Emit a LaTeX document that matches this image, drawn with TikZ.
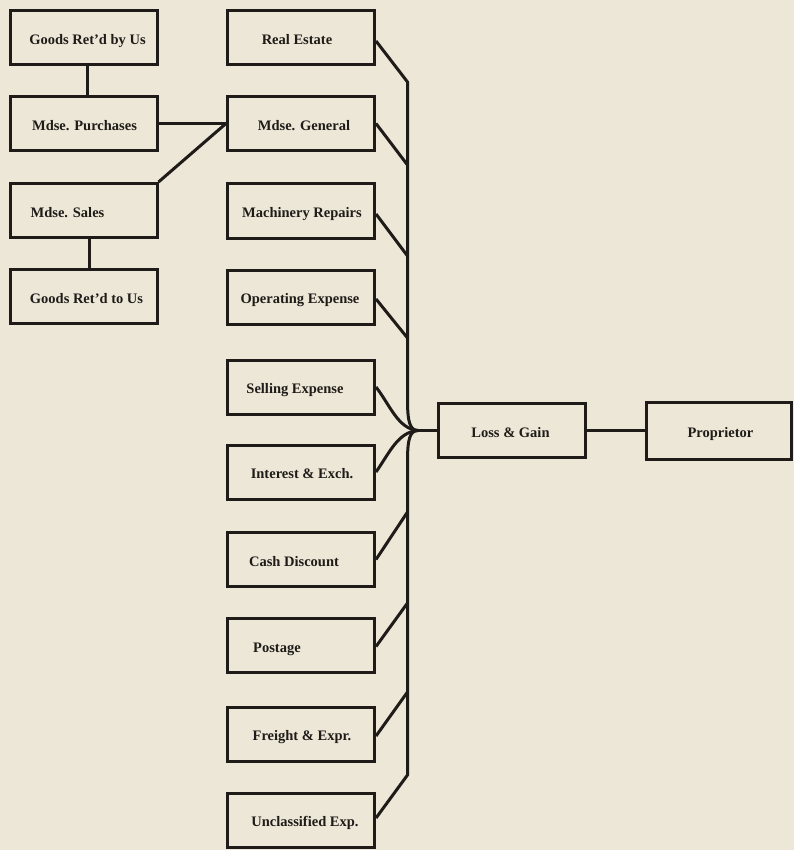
\documentclass[tikz,border=0pt]{standalone}
\usepackage{fontspec}
\setmainfont{Liberation Serif}
\usetikzlibrary{calc}
\definecolor{paper}{RGB}{236,231,214}
\definecolor{ink}{RGB}{30,27,24}
\newcommand{\tsh}[2]{\makebox[0pt][c]{\kern#1pt\kern#1pt #2}}
\begin{document}
\begin{tikzpicture}[x=1pt,y=-1pt,
  box/.style={draw=ink, line width=3pt, minimum width=147pt, minimum height=54pt,
    inner sep=0pt, text height=16.5pt, text depth=3pt,
    font=\fontsize{14.5}{17}\selectfont\bfseries, text=ink},
  conn/.style={draw=ink, line width=3pt, line join=round}]
\fill[paper] (0,0) rectangle (794,850);
\useasboundingbox (0,0) rectangle (794,850);
% left column
\node[box] (grb) at (83.5,38)    {\tsh{4}{Goods Ret'd by Us}};
\node[box] (mp)  at (83.5,123.5) {\tsh{1}{Mdse. Purchases}};
\node[box] (ms)  at (83.5,210.5) {\tsh{-16}{Mdse. Sales}};
\node[box] (grt) at (83.5,296.5) {\tsh{3}{Goods Ret'd to Us}};
% middle column
\node[box] (re) at (301,38)    {\tsh{-4}{Real Estate}};
\node[box] (mg) at (301,123.5) {\tsh{3}{Mdse. General}};
\node[box] (mr) at (301,211)   {\tsh{1}{Machinery Repairs}};
\node[box] (oe) at (301,297)   {\tsh{-1}{Operating Expense}};
\node[box] (se) at (301,387)   {\tsh{-6}{Selling Expense}};
\node[box] (ie) at (301,472)   {\tsh{1}{Interest \& Exch.}};
\node[box] (cd) at (301,559.5) {\tsh{-7}{Cash Discount}};
\node[box] (po) at (301,645.5) {\tsh{-24}{Postage}};
\node[box] (fe) at (301,734)   {\tsh{1}{Freight \& Expr.}};
\node[box] (ue) at (301,820)   {\tsh{4}{Unclassified Exp.}};
% right
\node[box] (lg) at (511.5,430.5) {\tsh{-1}{Loss \& Gain}};
\node[box, minimum width=145pt, minimum height=57pt] (pr) at (718.5,430.5) {\tsh{2}{Proprietor}};
% coordinates on the bus
\coordinate (j)  at (418,430.5);
\coordinate (t0) at (407.5,82);
\coordinate (b1) at (407.5,165);
\coordinate (b2) at (407.5,256);
\coordinate (b3) at (407.5,338);
\coordinate (b4) at (407.5,512);
\coordinate (b5) at (407.5,603);
\coordinate (b6) at (407.5,692);
\coordinate (u0) at (407.5,775);
% left connections
\draw[conn] ([xshift=4pt]grb.south) -- ([xshift=4pt]mp.north);
\draw[conn] ([xshift=5.5pt]ms.south) -- ([xshift=5.5pt]grt.north);
\draw[conn] (mp.east) -- (mg.west);
\draw[conn] (ms.north east) -- (mg.west);
% bus
\draw[conn] ([yshift=-3pt]re.east) -- (t0) -- (407.5,400) .. controls (407.5,422) and (410,430.5) .. (j);
\draw[conn] (j) .. controls (410,430.5) and (407.5,439) .. (407.5,461) -- (u0) -- ([yshift=2pt]ue.east);
\draw[conn] (j) -- (lg.west);
\draw[conn] (se.east) .. controls (390,405) and (398,429) .. (j);
\draw[conn] (ie.east) .. controls (390,452) and (398,432) .. (j);
\draw[conn] (mg.east) -- (b1);
\draw[conn] ([yshift=-3pt]mr.east) -- (b2);
\draw[conn] ([yshift=-2pt]oe.east) -- (b3);
\draw[conn] (cd.east) -- (b4);
\draw[conn] ([yshift=-1pt]po.east) -- (b5);
\draw[conn] ([yshift=-2pt]fe.east) -- (b6);
\draw[conn] (lg.east) -- (pr.west);
\end{tikzpicture}
\end{document}
